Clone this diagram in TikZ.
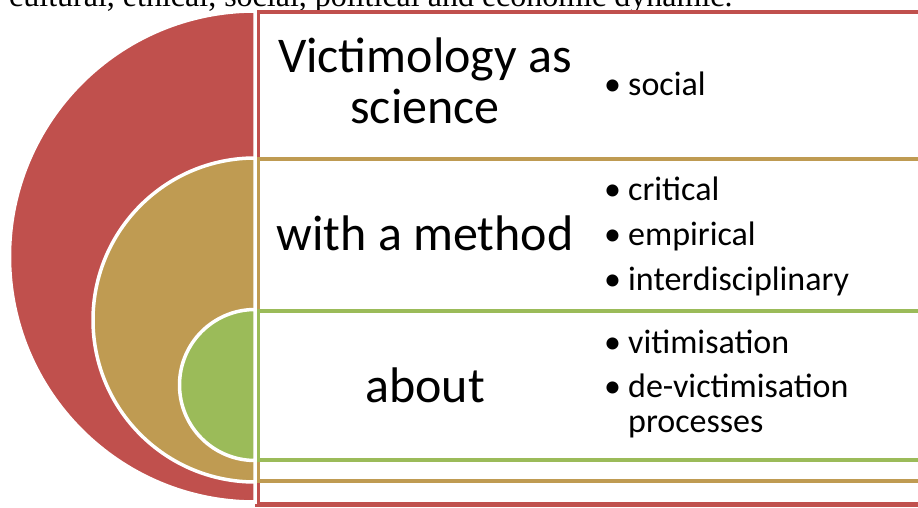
\documentclass[tikz,border=0pt]{standalone}
\usepackage{fontspec}
\setmainfont{Carlito}
\newfontfamily\bodyserif{Liberation Serif}
\definecolor{ringred}{HTML}{C0504D}
\definecolor{ringtan}{HTML}{BF9B52}
\definecolor{ringgreen}{HTML}{9BBB59}
\tikzset{
  ringbox/.style={fill=white, line width=4.5pt},
  halfdisc/.style={draw=white, line width=3.5pt},
  headline/.style={font=\fontsize{50}{52}\selectfont, anchor=base, inner sep=0pt},
  itemtext/.style={font=\fontsize{34}{36}\selectfont, anchor=base west, inner sep=0pt},
  itembullet/.style={font=\fontsize{34}{36}\selectfont, anchor=base west, inner sep=0pt},
}
\begin{document}
\begin{tikzpicture}[x=1pt,y=1pt]
\useasboundingbox (0,0) rectangle (918,507);
\clip (0,0) rectangle (918,507);
\fill[white] (0,0) rectangle (918,507);

% last line of the preceding paragraph, cut by the top edge
\node[font=\bodyserif\fontsize{32}{36}\selectfont, anchor=base west, inner sep=0pt] (para) at (9,500.5)
  {cultural, ethical, social, political and economic dynamic.};

% outer ring: red
\draw[ringbox, draw=ringred] (257.5,2.5) rectangle (960,495);
\filldraw[halfdisc, fill=ringred] (255,496) arc[start angle=90, end angle=270, radius=245.5] -- cycle;

% middle ring: tan
\draw[ringbox, draw=ringtan] (257.5,26) rectangle (960,348);
\filldraw[halfdisc, fill=ringtan] (255,349) arc[start angle=90, end angle=270, radius=162] -- cycle;

% inner ring: green
\draw[ringbox, draw=ringgreen] (257.5,47) rectangle (960,196);
\filldraw[halfdisc, fill=ringgreen] (255,197.5) arc[start angle=90, end angle=270, radius=75.5] -- cycle;

% headings
\node[headline] (h1a) at (425,434) {Victimology as};
\node[headline] (h1b) at (425,383) {science};
\node[headline] (h2) at (425,257) {with a method};
\node[headline] (h3) at (425,105) {about};

% bullet lists
\node[itembullet] (b1) at (604,411) {•};
\node[itemtext] (t1) at (628,411) {social};

\node[itembullet] (b2) at (604,307) {•};
\node[itemtext] (t2) at (628,307) {critical};
\node[itembullet] (b3) at (604,262) {•};
\node[itemtext] (t3) at (628,262) {empirical};
\node[itembullet] (b4) at (604,217) {•};
\node[itemtext] (t4) at (628,217) {interdisciplinary};

\node[itembullet] (b5) at (604,154) {•};
\node[itemtext] (t5) at (628,154) {vitimisation};
\node[itembullet] (b6) at (604,110) {•};
\node[itemtext] (t6) at (628,110) {de-victimisation};
\node[itemtext] (t7) at (628,75) {processes};
\end{tikzpicture}
\end{document}
